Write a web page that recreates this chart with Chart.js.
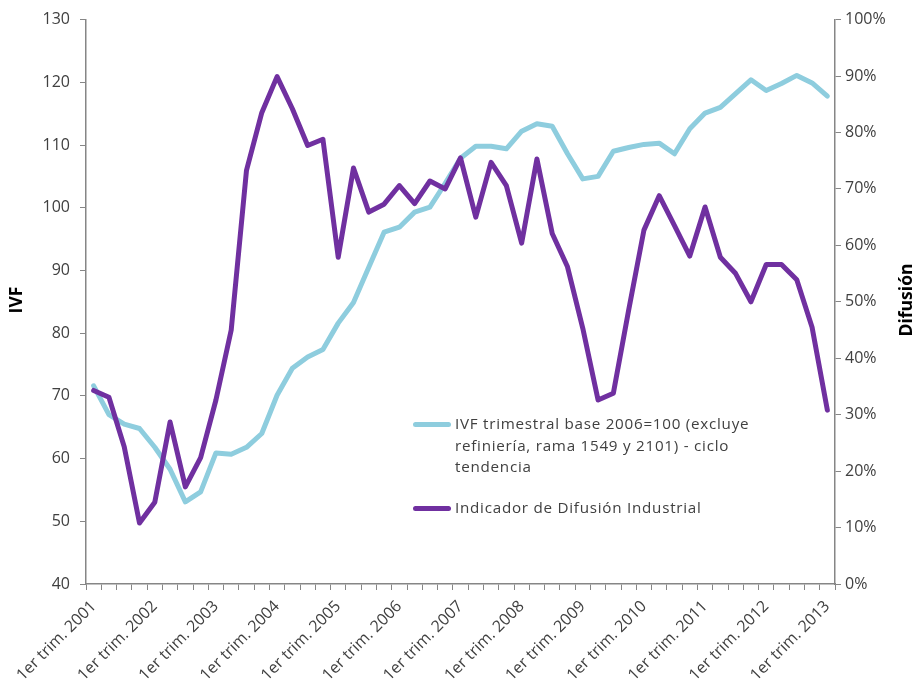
<!DOCTYPE html>
<html>
<head>
<meta charset="utf-8">
<script src="https://cdn.jsdelivr.net/npm/chart.js@4.4.0/dist/chart.umd.min.js"></script>
<style>
  body { margin: 0; background: #fff; }
  #wrap { position: relative; width: 920px; height: 684px; }
  #legend {
    position: absolute; left: 413px; top: 413px; width: 352px;
    font-family: "Open Sans", sans-serif; font-size: 15.2px; color: #404040;
    line-height: 21.5px; letter-spacing: 0.75px;
  }
  .item { position: relative; padding-left: 42px; margin-bottom: 19px; }
  .swatch { position: absolute; left: 0; top: 9px; width: 38px; height: 5px; border-radius: 3px; }
</style>
</head>
<body>
<div id="wrap">
  <canvas id="chart" width="920" height="684"></canvas>
  <div id="legend"></div>
</div>
<script>
// quarters 2001Q1 .. 2013Q1
const years = [2001, 2002, 2003, 2004, 2005, 2006, 2007, 2008, 2009, 2010, 2011, 2012, 2013];
const quarterLabels = [];
years.forEach(y => {
  for (let q = 1; q <= 4; q++) {
    if (y === 2013 && q > 1) break;
    quarterLabels.push(q === 1 ? '1er trim. ' + y : '');
  }
});

const ivfValues = [
  71.6, 67.0, 65.5, 64.8, 61.8, 58.3, 53.1, 54.7, 60.9, 60.7,
  61.8, 64.0, 70.1, 74.4, 76.2, 77.4, 81.6, 84.9, 90.5, 96.1,
  96.9, 99.3, 100.1, 103.9, 107.9, 109.8, 109.8, 109.4, 112.2, 113.4,
  113.0, 108.6, 104.6, 105.0, 109.0, 109.6, 110.1, 110.3, 108.6, 112.6,
  115.1, 116.0, 118.2, 120.4, 118.7, 119.8, 121.1, 119.9, 117.8
];

const difusionValues = [
  34.3, 33.1, 24.3, 10.8, 14.5, 28.7, 17.2, 22.4, 32.6, 45.0,
  73.3, 83.5, 89.9, 84.2, 77.7, 78.8, 57.9, 73.7, 65.9, 67.3,
  70.6, 67.4, 71.4, 70.0, 75.5, 65.0, 74.7, 70.6, 60.4, 75.3,
  62.1, 56.2, 45.3, 32.6, 33.8, 48.5, 62.7, 68.8, 63.5, 58.1,
  66.8, 57.9, 55.0, 50.0, 56.6, 56.6, 53.9, 45.5, 30.8
];

const seriesNames = [
  'IVF trimestral base 2006=100 (excluye refiniería, rama 1549 y 2101) - ciclo tendencia',
  'Indicador de Difusión Industrial'
];
const seriesColors = ['#8ECDDE', '#7030A0'];

const axisColor = '#868686';
const textColor = '#404040';
const tickFont = { family: 'Open Sans', size: 16 };

// legend as html so the long name can wrap like the original
document.getElementById('legend').innerHTML = seriesNames.map((name, i) => `
  <div class="item"><span class="swatch" style="background:${seriesColors[i]}"></span>${name}</div>
`).join('');

// axis titles, both read bottom-to-top
const axisTitles = {
  id: 'axisTitles',
  afterDraw(chart) {
    const ctx = chart.ctx;
    ctx.save();
    ctx.fillStyle = '#000';
    ctx.font = 'bold 17.5px "Open Sans"';
    ctx.textAlign = 'center';
    ctx.textBaseline = 'middle';
    [['IVF', 17], ['Difusión', 907]].forEach(([txt, x]) => {
      ctx.save();
      ctx.translate(x, 300);
      ctx.rotate(-Math.PI / 2);
      ctx.fillText(txt, 0, 0);
      ctx.restore();
    });
    ctx.restore();
  }
};

new Chart(document.getElementById('chart'), {
  type: 'line',
  data: {
    labels: quarterLabels,
    datasets: [{
      label: seriesNames[0],
      data: ivfValues,
      yAxisID: 'y',
      borderColor: seriesColors[0],
      borderWidth: 5,
      order: 1
    }, {
      label: seriesNames[1],
      data: difusionValues,
      yAxisID: 'y2',
      borderColor: seriesColors[1],
      borderWidth: 5,
      order: 0
    }]
  },
  options: {
    responsive: false,
    animation: false,
    layout: { padding: { top: 19, left: 0, right: 0, bottom: 0 } },
    elements: {
      line: { tension: 0, borderCapStyle: 'round', borderJoinStyle: 'round', fill: false },
      point: { radius: 0 }
    },
    scales: {
      x: {
        offset: true,
        afterFit(scale) { scale.height = 100; },
        grid: { offset: true, drawOnChartArea: false, drawTicks: true, tickLength: 6, color: axisColor },
        border: { color: axisColor, width: 1.5 },
        ticks: {
          autoSkip: false, minRotation: 45, maxRotation: 45, padding: 7,
          color: textColor, font: tickFont
        }
      },
      y: {
        position: 'left',
        min: 40, max: 130,
        afterFit(scale) { scale.width = 86; },
        grid: { drawOnChartArea: false, drawTicks: true, tickLength: 6, color: axisColor },
        border: { color: axisColor, width: 1.5 },
        ticks: { stepSize: 10, padding: 10, color: textColor, font: tickFont }
      },
      y2: {
        position: 'right',
        min: 0, max: 100,
        afterFit(scale) { scale.width = 85; },
        grid: { drawOnChartArea: false, drawTicks: true, tickLength: 6, color: axisColor },
        border: { color: axisColor, width: 1.5 },
        ticks: { stepSize: 10, padding: 4, color: textColor, font: tickFont, callback: v => v + '%' }
      }
    },
    plugins: {
      legend: { display: false },
      tooltip: { enabled: false }
    }
  },
  plugins: [axisTitles]
});
</script>
</body>
</html>
